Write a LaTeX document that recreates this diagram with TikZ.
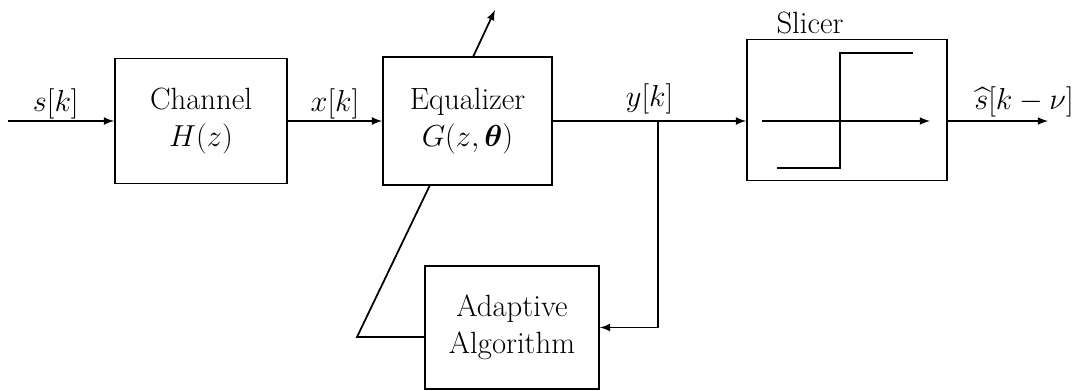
\documentclass[tikz,border=0pt]{standalone}
\usepackage{amsmath}
\usetikzlibrary{calc}

\tikzset{
  blockbox/.style={draw,line width=1pt,align=center,inner sep=0pt,
    font=\fontsize{17.5}{21}\selectfont},
  sig/.style={line width=1pt},
  sigarrow/.style={sig,-latex},
  siglabel/.style={font=\fontsize{17.5}{21}\selectfont}
}

\begin{document}
\begin{tikzpicture}

  % frame of the figure
  \useasboundingbox (0,0) rectangle (21.64,7.82);

  % ── BLOCKS ───────────────────────────────────────────────────────────────
  \node[blockbox,minimum width=3.44cm,minimum height=2.5cm] (channel)
    at (4.02,5.4) {Channel\\$H(z)$};
  \node[blockbox,minimum width=3.38cm,minimum height=2.56cm] (equalizer)
    at (9.35,5.4) {Equalizer\\$G(z,\boldsymbol{\theta})$};
  \node[blockbox,minimum width=4.0cm,minimum height=2.82cm] (slicer)
    at (16.94,5.62) {};
  \node[blockbox,minimum width=3.48cm,minimum height=2.46cm] (adaptive)
    at (10.24,1.27) {Adaptive\\Algorithm};
  \node[siglabel,anchor=south,inner sep=1pt] (slicerlabel) at (16.2,7.1) {Slicer};

  % ── SIGNAL PATH ──────────────────────────────────────────────────────────
  \coordinate (input) at (0.16,5.4);
  \coordinate (output) at (20.96,5.4);
  \coordinate (tap) at (13.16,5.4);

  \draw[sigarrow] (input) -- (channel.west)
    node[siglabel,pos=0.45,above,inner sep=0.5pt] (sk) {$s[k]$};
  \draw[sigarrow] (channel.east) -- (equalizer.west)
    node[siglabel,midway,above,inner sep=0.5pt] (xk) {$x[k]$};
  \draw[sig] (equalizer.east) -- (tap)
    node[siglabel,pos=0.92,above] (yk) {$y[k]$};
  \draw[sigarrow] (tap) -- (slicer.west |- tap);
  \draw[sigarrow] (slicer.east |- tap) -- (output)
    node[siglabel,pos=0.76,above,inner sep=2pt] (shat) {$\widehat{s}[k-\nu]$};

  % ── SLICER CHARACTERISTIC ────────────────────────────────────────────────
  \draw[sigarrow] (15.24,5.4) -- (18.6,5.4);
  \draw[sig] (15.54,4.46) -- (16.8,4.46) -- (16.8,6.76) -- (18.26,6.76);

  % ── ADAPTATION LOOP ──────────────────────────────────────────────────────
  \coordinate (corner) at (7.14,1.08);
  \coordinate (tunein) at (8.6,4.12);
  \coordinate (tuneout) at (9.46,6.68);
  \coordinate (tunetip) at (9.9,7.62);

  \draw[sigarrow] (tap) |- (adaptive.east);
  \draw[sig] (adaptive.west |- corner) -- (corner) -- (tunein);
  \draw[sigarrow] (tuneout) -- (tunetip);

\end{tikzpicture}
\end{document}
